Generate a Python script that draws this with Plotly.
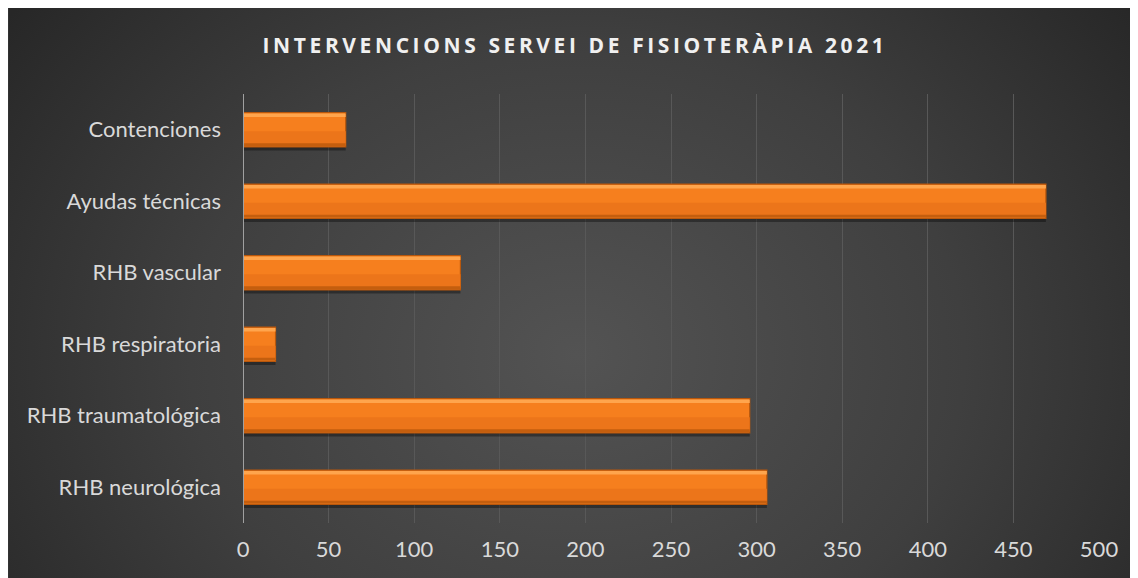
import base64
import plotly.graph_objects as go

categories = ["Contenciones", "Ayudas técnicas", "RHB vascular",
              "RHB respiratoria", "RHB traumatológica", "RHB neurológica"]
values = [60, 469, 127, 19, 296, 306]
x_ticks = [0, 50, 100, 150, 200, 250, 300, 350, 400, 450, 500]
title_text = "INTERVENCIONS SERVEI DE FISIOTERÀPIA 2021"

W, H = 1138, 578
L, R, T, B = 234.5, 46.5, 86, 63.3
pw, ph = W - L - R, H - T - B

svg = f"""<svg xmlns='http://www.w3.org/2000/svg' width='{W}' height='{H}' viewBox='0 0 {W} {H}' preserveAspectRatio='none'>
<defs><radialGradient id='g' cx='0.5' cy='0.6' r='0.62' gradientTransform='translate(0.5 0.6) scale(1 1.6) translate(-0.5 -0.6)'>
<stop offset='0' stop-color='#535353'/><stop offset='0.55' stop-color='#3f3f3f'/><stop offset='1' stop-color='#272727'/></radialGradient></defs>
<rect width='{W}' height='{H}' fill='url(#g)'/></svg>"""
src = "data:image/svg+xml;base64," + base64.b64encode(svg.encode()).decode()

x0 = -L / pw
x1 = (W - L) / pw
ytop = (H - B) / ph
ybot = -B / ph

bw = 0.48
fig = go.Figure()
# shadow
fig.add_trace(go.Bar(y=categories, x=values, orientation="h", width=bw, offset=-bw / 2 + 0.05,
                     marker=dict(color="rgba(0,0,0,0.35)", line=dict(width=0)), hoverinfo="skip"))
# main bar
fig.add_trace(go.Bar(y=categories, x=values, orientation="h", width=bw, offset=-bw / 2,
                     marker=dict(color="#F67F1E", line=dict(color="#B8570C", width=1.2))))
# lower darker half
fig.add_trace(go.Bar(y=categories, x=values, orientation="h", width=0.2, offset=0.02,
                     marker=dict(color="#EC751A", line=dict(width=0)), hoverinfo="skip"))
# top highlight
fig.add_trace(go.Bar(y=categories, x=values, orientation="h", width=0.05, offset=-bw / 2 + 0.012,
                     marker=dict(color="#FFA54D", line=dict(width=0)), hoverinfo="skip"))
# bottom dark edge
fig.add_trace(go.Bar(y=categories, x=values, orientation="h", width=0.04, offset=bw / 2 - 0.052,
                     marker=dict(color="#C45E0E", line=dict(width=0)), hoverinfo="skip"))

fig.update_layout(
    width=W, height=H,
    margin=dict(l=L, r=R, t=T, b=B),
    paper_bgcolor="#333333",
    plot_bgcolor="rgba(0,0,0,0)",
    barmode="overlay",
    showlegend=False,
    font=dict(family="Lato, 'Open Sans', sans-serif", color="#d9d9d9", size=22),
    title=dict(text=f"<b>{title_text}</b>", x=567 / W, xref="container", y=1 - 38 / H, yref="container",
               xanchor="center", yanchor="middle",
               font=dict(family="'Open Sans', Lato, sans-serif", size=21, color="#f0f0f0")),
    images=[dict(source=src, xref="paper", yref="paper", x=x0, y=ytop,
                 sizex=x1 - x0, sizey=ytop - ybot, sizing="stretch",
                 xanchor="left", yanchor="top", layer="below")],
    xaxis=dict(range=[0, 500], tickvals=x_ticks, ticktext=[str(v) for v in x_ticks],
               showgrid=True, gridcolor="#585858", gridwidth=1.3, zeroline=False,
               showline=False, ticks="", tickfont=dict(size=22, color="#d9d9d9"), ticklabelstandoff=11),
    yaxis=dict(categoryorder="array", categoryarray=categories, autorange="reversed",
               showgrid=False, zeroline=False, showline=False, ticks="",
               tickfont=dict(size=22, color="#d9d9d9"), ticklabelstandoff=21),
    shapes=[dict(type="line", xref="x", yref="paper", x0=0, x1=0, y0=0, y1=1,
                 line=dict(color="#a0a0a0", width=2), layer="above")],
)

post = """
var t = document.querySelector('.gtitle');
if (t) { t.style.letterSpacing = '3.6px'; }
"""
fig.write_html("out.html", post_script=post)
